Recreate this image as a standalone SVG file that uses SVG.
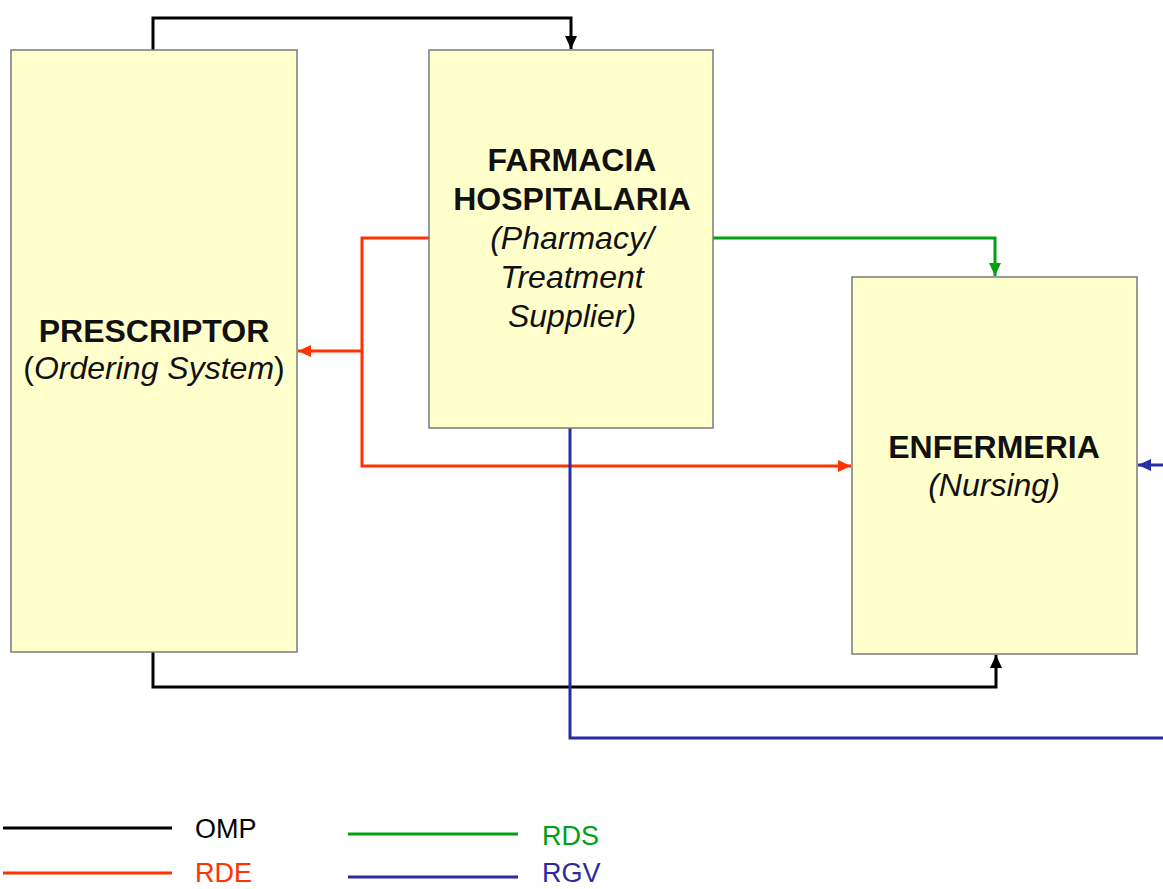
<svg xmlns="http://www.w3.org/2000/svg" width="1163" height="889" viewBox="0 0 1163 889">
<style>
.box{fill:#ffffcc;stroke:#7a7a7a;stroke-width:1.5}
.t{font-family:"Liberation Sans",Arial,sans-serif;text-anchor:middle;fill:#111}
.b{font-weight:bold;font-size:32px}
.i{font-style:italic;font-size:32px}
.c{fill:none;stroke-width:3;stroke-linejoin:miter}
.k{stroke:#000}
.r{stroke:#ff3300}
.g{stroke:#00a010}
.u{stroke:#2b2ba3}
.lg{font-family:"Liberation Sans",Arial,sans-serif;font-size:27px}
</style>
<defs>
<marker id="ak" markerUnits="userSpaceOnUse" markerWidth="16" markerHeight="14" refX="13" refY="6" orient="auto"><path d="M0,0 L13,6 L0,12 Z" fill="#000"/></marker>
<marker id="ar" markerUnits="userSpaceOnUse" markerWidth="16" markerHeight="14" refX="13" refY="6" orient="auto"><path d="M0,0 L13,6 L0,12 Z" fill="#ff3300"/></marker>
<marker id="ag" markerUnits="userSpaceOnUse" markerWidth="16" markerHeight="14" refX="13" refY="6" orient="auto"><path d="M0,0 L13,6 L0,12 Z" fill="#00a010"/></marker>
<marker id="au" markerUnits="userSpaceOnUse" markerWidth="16" markerHeight="14" refX="13" refY="6" orient="auto"><path d="M0,0 L13,6 L0,12 Z" fill="#2b2ba3"/></marker>
</defs>
<rect width="1163" height="889" fill="#fff"/>
<g id="connectors">
<path class="c k" d="M153,50 V18 H571 V49" marker-end="url(#ak)"/>
<path class="c k" d="M153,652 V687 H996 V655" marker-end="url(#ak)"/>
<path class="c r" d="M429,238 H362 V466 H851" marker-end="url(#ar)"/>
<path class="c r" d="M362,351 H298" marker-end="url(#ar)"/>
<path class="c g" d="M713,238 H995 V276" marker-end="url(#ag)"/>
<path class="c u" d="M570,428 V738 H1165"/>
<path class="c u" d="M1165,465 H1138" marker-end="url(#au)"/>
</g>
<g id="prescriptor">
<rect class="box" x="11" y="50" width="286" height="602"/>
<text class="t b" x="154" y="342">PRESCRIPTOR</text>
<text class="t" x="154" y="379" font-size="32">(<tspan font-style="italic">Ordering System</tspan>)</text>
</g>
<g id="farmacia">
<rect class="box" x="429" y="50" width="284" height="378"/>
<text class="t b" x="572" y="171">FARMACIA</text>
<text class="t b" x="572" y="210">HOSPITALARIA</text>
<text class="t i" x="572" y="249">(Pharmacy/</text>
<text class="t i" x="572" y="288">Treatment</text>
<text class="t i" x="572" y="327">Supplier)</text>
</g>
<g id="enfermeria">
<rect class="box" x="852" y="277" width="285" height="377"/>
<text class="t b" x="994" y="458">ENFERMERIA</text>
<text class="t i" x="994" y="496">(Nursing)</text>
</g>
<g id="legend">
<line class="c k" x1="3" y1="828" x2="172" y2="828"/>
<text class="lg" x="195" y="838" fill="#000">OMP</text>
<line class="c r" x1="3" y1="873" x2="172" y2="873"/>
<text class="lg" x="195" y="882" fill="#ff3300">RDE</text>
<line class="c g" x1="348" y1="834" x2="518" y2="834"/>
<text class="lg" x="542" y="845" fill="#00a010">RDS</text>
<line class="c u" x1="348" y1="877" x2="518" y2="877"/>
<text class="lg" x="542" y="882" fill="#2b2ba3">RGV</text>
</g>
</svg>
